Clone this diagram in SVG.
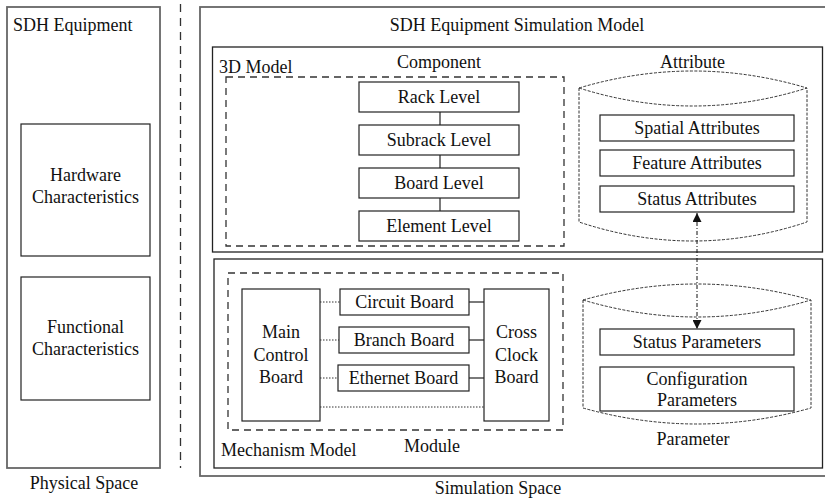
<svg xmlns="http://www.w3.org/2000/svg" width="825" height="500" viewBox="0 0 825 500">
<style>
text{font-family:'Liberation Serif','Times New Roman',Tinos,'DejaVu Serif',serif;font-size:18px;fill:#111}
.c{text-anchor:middle}
.outer{fill:none;stroke:#666;stroke-width:1.8}
.frame{fill:none;stroke:#222;stroke-width:1.3}
.box{fill:#fff;stroke:#222;stroke-width:1.2}
.dash{fill:none;stroke:#333;stroke-width:1.3;stroke-dasharray:7 5}
.cyl{fill:none;stroke:#333;stroke-width:1;stroke-dasharray:3 1.5}
.dot{fill:none;stroke:#333;stroke-width:1;stroke-dasharray:1.5 1.5}
.solid{fill:none;stroke:#222;stroke-width:1.2}
</style>
<defs>
<marker id="ah" viewBox="0 0 10 10" refX="10" refY="5" markerWidth="9" markerHeight="9" markerUnits="userSpaceOnUse" orient="auto-start-reverse">
<path d="M0,0 L10,5 L0,10 z" fill="#111"/>
</marker>
</defs>
<g font-family="Liberation Serif, Times New Roman, DejaVu Serif, serif">
<g id="physical-space">
<rect class="outer" x="7" y="7" width="153" height="461"/>
<text x="13" y="31">SDH Equipment</text>
<text class="c" x="84" y="489">Physical Space</text>
</g>
<g id="hardware">
<rect class="box" x="21" y="124" width="129" height="132"/>
<text class="c" x="85.5" y="181">Hardware</text>
<text class="c" x="85.5" y="203">Characteristics</text>
</g>
<g id="functional">
<rect class="box" x="21" y="277" width="129" height="123"/>
<text class="c" x="85.5" y="333">Functional</text>
<text class="c" x="85.5" y="355">Characteristics</text>
</g>

<line x1="180.5" y1="4" x2="180.5" y2="468" stroke="#333" stroke-width="1.3" stroke-dasharray="8 6"/>

<g id="simulation-space">
<rect class="outer" x="200" y="7" width="630" height="469"/>
<text class="c" x="517" y="31">SDH Equipment Simulation Model</text>
<text class="c" x="498" y="494">Simulation Space</text>
</g>

<g id="model-3d">
<rect class="frame" x="212.5" y="47" width="610" height="205"/>
<text x="219" y="73">3D Model</text>
</g>
<g id="component">
<rect class="dash" x="226" y="77" width="338" height="169"/>
<text class="c" x="439" y="68">Component</text>
</g>
<g id="rack"><rect class="box" x="359" y="82" width="160" height="30"/><text class="c" x="439" y="103">Rack Level</text></g>
<g id="subrack"><rect class="box" x="359" y="125" width="160" height="30"/><text class="c" x="439" y="146">Subrack Level</text></g>
<g id="board"><rect class="box" x="359" y="168" width="160" height="30"/><text class="c" x="439" y="189">Board Level</text></g>
<g id="element"><rect class="box" x="359" y="211" width="160" height="30"/><text class="c" x="439" y="232">Element Level</text></g>

<g id="attribute">
<path class="cyl" d="M579,88 Q693,54 807,88 M579,88 Q693,124 807,88 M579,88 L579,222 Q693,260 807,222 L807,88"/>
<text class="c" x="692.5" y="68">Attribute</text>
</g>
<g id="spatial"><rect class="box" x="600" y="115" width="194" height="26"/><text class="c" x="697" y="134">Spatial Attributes</text></g>
<g id="feature"><rect class="box" x="600" y="150" width="194" height="26"/><text class="c" x="697" y="169">Feature Attributes</text></g>
<g id="status-attr"><rect class="box" x="600" y="186" width="194" height="26"/><text class="c" x="697" y="205">Status Attributes</text></g>

<g id="mechanism-model">
<rect class="frame" x="214" y="259" width="608.5" height="209"/>
<text x="221" y="456">Mechanism Model</text>
</g>
<g id="module">
<rect class="dash" x="228" y="273" width="335" height="157"/>
<text class="c" x="432" y="452">Module</text>
</g>
<g id="main-control"><rect class="box" x="242" y="289" width="78" height="132"/>
<text class="c" x="281" y="338">Main</text><text class="c" x="281" y="361">Control</text><text class="c" x="281" y="383">Board</text></g>
<g id="cross-clock"><rect class="box" x="484" y="289" width="65" height="132"/>
<text class="c" x="516.5" y="338">Cross</text><text class="c" x="516.5" y="361">Clock</text><text class="c" x="516.5" y="383">Board</text></g>
<g id="circuit"><rect class="box" x="340" y="289" width="129" height="26"/><text class="c" x="404.5" y="308">Circuit Board</text></g>
<g id="branch"><rect class="box" x="339" y="327" width="130" height="26"/><text class="c" x="404" y="346">Branch Board</text></g>
<g id="ethernet"><rect class="box" x="338" y="365" width="131" height="26"/><text class="c" x="403.5" y="384">Ethernet Board</text></g>

<g id="parameter">
<path class="cyl" d="M583,300 Q697,268 811,300 M583,300 Q697,334 811,300 M583,300 L583,408 Q697,440 811,408 L811,300"/>
<text class="c" x="693" y="445">Parameter</text>
</g>
<g id="status-param"><rect class="box" x="600" y="329" width="194" height="26"/><text class="c" x="697" y="348">Status Parameters</text></g>
<g id="config-param"><rect class="box" x="600" y="367" width="194" height="44"/>
<text class="c" x="697" y="385">Configuration</text><text class="c" x="697" y="406">Parameters</text></g>
</g>
<g id="connectors">
<line class="solid" x1="440" y1="112" x2="440" y2="125"/>
<line class="solid" x1="440" y1="155" x2="440" y2="168"/>
<line class="solid" x1="440" y1="198" x2="440" y2="211"/>
<line class="dot" x1="320" y1="302" x2="340" y2="302"/>
<line class="dot" x1="320" y1="340" x2="339" y2="340"/>
<line class="dot" x1="320" y1="378" x2="338" y2="378"/>
<line class="dot" x1="320" y1="407" x2="484" y2="407"/>
<line class="solid" x1="469" y1="302" x2="484" y2="302"/>
<line class="solid" x1="469" y1="340" x2="484" y2="340"/>
<line class="solid" x1="469" y1="378" x2="484" y2="378"/>
<line x1="697" y1="213" x2="697" y2="329" stroke="#111" stroke-width="1" stroke-dasharray="4 2 1 2" marker-start="url(#ah)" marker-end="url(#ah)"/>
</g>
</svg>
